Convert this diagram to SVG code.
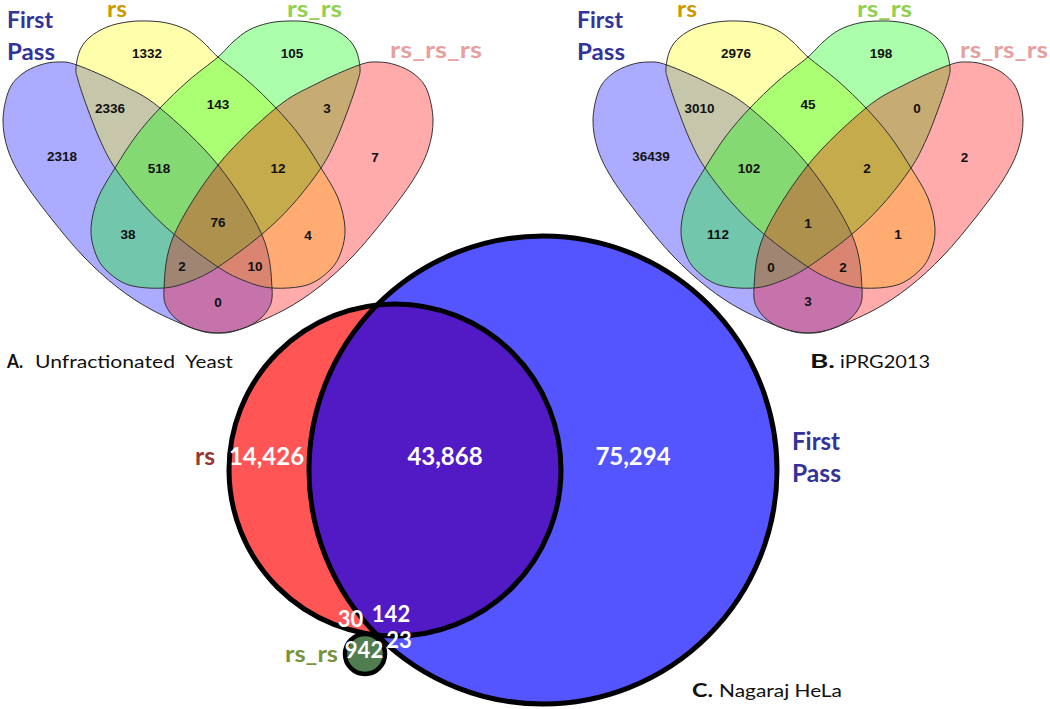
<svg xmlns="http://www.w3.org/2000/svg" width="1050" height="709" viewBox="0 0 1050 709">
<style>
.num{font-family:"Liberation Sans",Arial,sans-serif;font-weight:bold;font-size:13.5px;fill:#111;text-anchor:middle}
.lab{font-family:Lato,"Open Sans",sans-serif;font-weight:bold;font-size:23px}
.cap{font-family:Lato,"Open Sans",sans-serif;font-size:18px;fill:#111}
.capb{font-family:Lato,"Open Sans",sans-serif;font-size:18px;fill:#111;font-weight:bold}
.big{font-family:Lato,"Open Sans",sans-serif;font-weight:bold;font-size:24px;fill:#fff;text-anchor:middle}
.mid{font-family:Lato,"Open Sans",sans-serif;font-weight:bold;font-size:22px;fill:#fff;text-anchor:middle}
.eo{fill:none;stroke:#333;stroke-width:1}
.fb{fill:#0000ff;fill-opacity:0.33}
.fy{fill:#ffff00;fill-opacity:0.33}
.fg{fill:#00ff00;fill-opacity:0.33}
.fr{fill:#ff0000;fill-opacity:0.33}
.cs{fill:none;stroke:#000;stroke-width:5}
</style>
<defs>
<path id="outer" d="M3,120 C3.17,110 5.83,97.67 9,90 C12.17,82.33 16.830,78.17 22,74 C27.17,69.83 34,67 40,65 C46,63 51.83,62 58,62 C64.17,62 66.67,61.33 77,65 C87.33,68.67 106.17,76.83 120,84 C133.83,91.17 143.67,94.5 160,108 C176.33,121.5 201,143.83 218,165 C235,186.17 253,214.5 262,235 C271,255.5 271.17,275.33 272,288 C272.83,300.67 271.17,304.5 267,311 C262.83,317.5 255.17,323.33 247,327 C238.83,330.67 226.67,332.67 218,333 C209.33,333.33 206,332.83 195,329 C184,325.17 165,317 152,310 C139,303 128.5,296 117,287 C105.5,278 94.17,267.67 83,256 C71.83,244.33 60,229.67 50,217 C40,204.33 30,191.17 23,180 C16,168.83 11.33,160 8,150 C4.67,140 2.83,130 3,120 Z"/>
<path id="inner" d="M76,68 C76.33,63 77.67,55.17 80,50 C82.33,44.83 85.5,40.83 90,37 C94.5,33.17 100.83,29.5 107,27 C113.17,24.5 120.33,23 127,22 C133.67,21 140.33,20.83 147,21 C153.67,21.17 160.33,21.5 167,23 C173.67,24.5 181,26.83 187,30 C193,33.17 197.83,37.5 203,42 C208.17,46.5 210.5,50.5 218,57 C225.5,63.5 238.33,72.5 248,81 C257.67,89.5 267.33,98.83 276,108 C284.67,117.17 292.5,126 300,136 C307.5,146 314.67,157.67 321,168 C327.33,178.33 334,188 338,198 C342,208 344.5,219 345,228 C345.5,237 343.5,245 341,252 C338.5,259 335.67,264.5 330,270 C324.33,275.5 316.67,282 307,285 C297.33,288 282.33,288.67 272,288 C261.67,287.33 254,284.5 245,281 C236,277.5 229.67,274.67 218,267 C206.33,259.33 187.5,245.5 175,235 C162.5,224.5 153,215.17 143,204 C133,192.83 122.17,178.67 115,168 C107.830,157.33 104.67,150.17 100,140 C95.33,129.83 90.67,117 87,107 C83.33,97 79.83,86.5 78,80 C76.17,73.5 75.67,73 76,68 Z"/>
<clipPath id="clipBlueC"><circle cx="543" cy="470" r="234"/></clipPath>
</defs>

<!-- Venn A -->
<g id="vennA">
<g id="A-firstpass"><use href="#outer" class="fb"/></g>
<g id="A-rs"><use href="#inner" class="fy"/></g>
<g id="A-rs_rs"><use href="#inner" class="fg" transform="translate(436,0) scale(-1,1)"/></g>
<g id="A-rs_rs_rs"><use href="#outer" class="fr" transform="translate(436,0) scale(-1,1)"/></g>
<g id="A-outlines">
<use href="#outer" class="eo"/>
<use href="#inner" class="eo"/>
<use href="#inner" class="eo" transform="translate(436,0) scale(-1,1)"/>
<use href="#outer" class="eo" transform="translate(436,0) scale(-1,1)"/>
</g>
<g id="A-counts">
<text class="num" x="62" y="161">2318</text>
<text class="num" x="110" y="113">2336</text>
<text class="num" x="147" y="58">1332</text>
<text class="num" x="159" y="173">518</text>
<text class="num" x="218" y="109">143</text>
<text class="num" x="292" y="58">105</text>
<text class="num" x="327" y="113">3</text>
<text class="num" x="375" y="161.5">7</text>
<text class="num" x="278" y="173">12</text>
<text class="num" x="128" y="239">38</text>
<text class="num" x="218" y="227">76</text>
<text class="num" x="308" y="240">4</text>
<text class="num" x="182" y="271">2</text>
<text class="num" x="255" y="271">10</text>
<text class="num" x="218" y="306.5">0</text>
</g>
<g id="A-labels">
<text class="lab" x="7" y="28" fill="#333399" textLength="46" lengthAdjust="spacingAndGlyphs">First</text>
<text class="lab" x="7" y="60" fill="#333399" textLength="48" lengthAdjust="spacingAndGlyphs">Pass</text>
<text class="lab" x="107" y="17" fill="#CC9900" textLength="20" lengthAdjust="spacingAndGlyphs">rs</text>
<text class="lab" x="287" y="17" fill="#92D050" textLength="55" lengthAdjust="spacingAndGlyphs">rs_rs</text>
<text class="lab" x="390" y="58" fill="#E6A0A0" textLength="92" lengthAdjust="spacingAndGlyphs">rs_rs_rs</text>
</g>
<g id="A-caption">
<text class="capb" x="7" y="368" textLength="16" lengthAdjust="spacingAndGlyphs">A.</text>
<text class="cap" x="35" y="368" textLength="140" lengthAdjust="spacingAndGlyphs">Unfractionated</text>
<text class="cap" x="185" y="368" textLength="48" lengthAdjust="spacingAndGlyphs">Yeast</text>
</g>
</g>

<!-- Venn B -->
<g id="vennB">
<g transform="translate(590,0)">
<g id="B-firstpass"><use href="#outer" class="fb"/></g>
<g id="B-rs"><use href="#inner" class="fy"/></g>
<g id="B-rs_rs"><use href="#inner" class="fg" transform="translate(436,0) scale(-1,1)"/></g>
<g id="B-rs_rs_rs"><use href="#outer" class="fr" transform="translate(436,0) scale(-1,1)"/></g>
<g id="B-outlines">
<use href="#outer" class="eo"/>
<use href="#inner" class="eo"/>
<use href="#inner" class="eo" transform="translate(436,0) scale(-1,1)"/>
<use href="#outer" class="eo" transform="translate(436,0) scale(-1,1)"/>
</g>
</g>
<g id="B-counts">
<text class="num" x="651" y="161">36439</text>
<text class="num" x="699.5" y="113">3010</text>
<text class="num" x="736" y="58">2976</text>
<text class="num" x="749" y="173">102</text>
<text class="num" x="808" y="109">45</text>
<text class="num" x="881" y="58">198</text>
<text class="num" x="917" y="113">0</text>
<text class="num" x="964.5" y="161.5">2</text>
<text class="num" x="867" y="173">2</text>
<text class="num" x="718" y="239">112</text>
<text class="num" x="808" y="228">1</text>
<text class="num" x="898" y="239">1</text>
<text class="num" x="771" y="271.5">0</text>
<text class="num" x="843" y="271.5">2</text>
<text class="num" x="808" y="305.5">3</text>
</g>
<g id="B-labels">
<text class="lab" x="577" y="28" fill="#333399" textLength="46" lengthAdjust="spacingAndGlyphs">First</text>
<text class="lab" x="577" y="60" fill="#333399" textLength="48" lengthAdjust="spacingAndGlyphs">Pass</text>
<text class="lab" x="677" y="17" fill="#CC9900" textLength="20" lengthAdjust="spacingAndGlyphs">rs</text>
<text class="lab" x="857" y="17" fill="#92D050" textLength="55" lengthAdjust="spacingAndGlyphs">rs_rs</text>
<text class="lab" x="960" y="58" fill="#E6A0A0" textLength="88" lengthAdjust="spacingAndGlyphs">rs_rs_rs</text>
</g>
<g id="B-caption">
<text class="capb" x="810" y="368" textLength="25" lengthAdjust="spacingAndGlyphs">B.</text>
<text class="cap" x="840" y="368" textLength="90" lengthAdjust="spacingAndGlyphs">iPRG2013</text>
</g>
</g>

<!-- Venn C -->
<g id="vennC">
<g id="C-firstpass"><circle cx="543" cy="470" r="234" fill="#5555FF"/></g>
<g id="C-rs"><circle cx="395" cy="470" r="166" fill="#FF5555"/>
<circle cx="395" cy="470" r="166" fill="#521AC5" clip-path="url(#clipBlueC)"/></g>
<g id="C-outlines">
<circle class="cs" cx="543" cy="470" r="234"/>
<circle class="cs" cx="395" cy="470" r="166"/>
</g>
<g id="C-rs_rs"><circle cx="365" cy="654" r="20" fill="#507D50" stroke="#000" stroke-width="4.5"/></g>
<g id="C-counts">
<text class="big" x="266.5" y="465">14,426</text>
<text class="big" x="445" y="465">43,868</text>
<text class="big" x="633" y="465">75,294</text>
<text class="mid" x="350.5" y="627">30</text>
<text class="mid" x="391" y="622">142</text>
<text class="mid" x="399" y="648">23</text>
<text class="mid" x="364" y="658">942</text>
</g>
<g id="C-labels">
<text class="lab" x="195" y="465" style="fill:#953735;font-size:24px" textLength="20" lengthAdjust="spacingAndGlyphs">rs</text>
<text class="lab" x="792" y="450" fill="#333399" style="font-size:25px" textLength="48" lengthAdjust="spacingAndGlyphs">First</text>
<text class="lab" x="792" y="482" fill="#333399" style="font-size:25px" textLength="49" lengthAdjust="spacingAndGlyphs">Pass</text>
<text class="lab" x="285" y="662" fill="#77933C" textLength="53" lengthAdjust="spacingAndGlyphs">rs_rs</text>
</g>
<g id="C-caption">
<text class="capb" x="692" y="697" textLength="21" lengthAdjust="spacingAndGlyphs">C.</text>
<text class="cap" x="719" y="697" textLength="123" lengthAdjust="spacingAndGlyphs">Nagaraj HeLa</text>
</g>
</g>
<g id="connectors"/>
</svg>
